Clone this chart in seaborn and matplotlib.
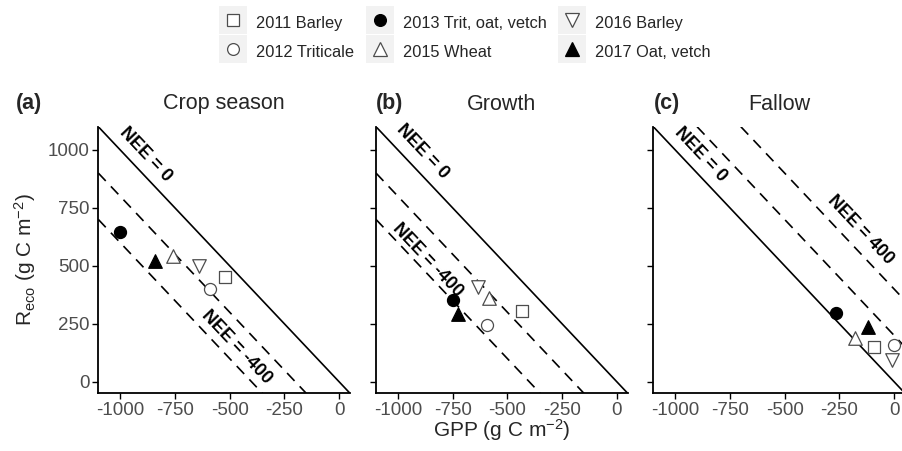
import matplotlib
matplotlib.use("Agg")
import matplotlib.pyplot as plt
from matplotlib.lines import Line2D
from matplotlib.legend_handler import HandlerTuple
import seaborn as sns

# ---------------- data ----------------
series = ['2011 Barley', '2012 Triticale', '2013 Trit, oat, vetch',
          '2015 Wheat', '2016 Barley', '2017 Oat, vetch']
markers = ['s', 'o', 'o', '^', 'v', '^']
filled = [False, False, True, False, False, True]

crop_gpp = [-520, -590, -1000, -757, -638, -840]
crop_reco = [453, 399, 647, 542, 498, 520]
growth_gpp = [-433, -593, -750, -582, -636, -727]
growth_reco = [306, 245, 353, 360, 407, 290]
fallow_gpp = [-91, 0, -263, -179, -8, -117]
fallow_reco = [151, 158, 298, 187, 94, 235]

panel_titles = ['Crop season', 'Growth', 'Fallow']
panel_tags = ['(a)', '(b)', '(c)']
nee_lines = [[0, -200, -400], [0, -200, -400], [0, 200, 400]]
nee_labels = [[('NEE = 0', -886, 978), ('NEE = -400', -468, 151)],
              [('NEE = 0', -886, 993), ('NEE = -400', -864, 525)],
              [('NEE = 0', -883, 978), ('NEE = 400', -152, 655)]]
xticks = [-1000, -750, -500, -250, 0]
yticks = [0, 250, 500, 750, 1000]

# ---------------- style ----------------
sns.set_style('ticks')
plt.rcParams['font.family'] = ['Liberation Sans', 'DejaVu Sans']
plt.rcParams['axes.unicode_minus'] = False
plt.rcParams['mathtext.fontset'] = 'custom'
plt.rcParams['mathtext.rm'] = 'Liberation Sans'
plt.rcParams['mathtext.it'] = 'Liberation Sans:italic'
plt.rcParams['mathtext.bf'] = 'Liberation Sans:bold'

W, H = 902, 451
fig = plt.figure(figsize=(W / 100, H / 100), dpi=100)

ax_left_px = [98.3, 376.0, 653.3]
ax_w_px = 251.7
ax_top_px, ax_bot_px = 126.7, 393.3
tag_x_px = [16, 376, 654]

data = [(crop_gpp, crop_reco), (growth_gpp, growth_reco), (fallow_gpp, fallow_reco)]
gray_edge = '#4D4D4D'

axes = []
for i in range(3):
    ax = fig.add_axes([ax_left_px[i] / W, 1 - ax_bot_px / H,
                       ax_w_px / W, (ax_bot_px - ax_top_px) / H])
    axes.append(ax)
    ax.set_xlim(-1100, 50)
    ax.set_ylim(-50, 1100)

    for nee in nee_lines[i]:
        ls = '-' if nee == 0 else (0, (6.5, 4.5))
        ax.axline((0, nee), slope=-1, color='black', lw=1.2, linestyle=ls, zorder=1)

    gx, gy = data[i]
    for j in range(len(series)):
        fc = 'black' if filled[j] else 'white'
        ec = 'black' if filled[j] else gray_edge
        size = 95 if markers[j] in ('^', 'v') else 75
        sns.scatterplot(x=[gx[j]], y=[gy[j]], marker=markers[j], s=size,
                        facecolor=fc, edgecolor=ec, linewidth=0.9,
                        ax=ax, zorder=3, legend=False)

    for txt, tx, ty in nee_labels[i]:
        ax.text(tx, ty, txt, rotation=-45, transform_rotates_text=True,
                rotation_mode='anchor', ha='center', va='center',
                fontsize=13, fontweight='bold', color='black', zorder=2)

    sns.despine(ax=ax)
    for sp in ('left', 'bottom'):
        ax.spines[sp].set_linewidth(1.3)
        ax.spines[sp].set_color('black')
    ax.set_xticks(xticks)
    ax.set_yticks(yticks)
    ax.tick_params(axis='both', length=4, width=1, color='black',
                   labelsize=13.5, labelcolor='#4D4D4D', pad=2)
    if i > 0:
        ax.set_yticklabels([])
    ax.set_xlabel('')
    ax.set_ylabel('')
    ax.text(0.5, 1 + (ax_top_px - 104) / (ax_bot_px - ax_top_px), panel_titles[i],
            transform=ax.transAxes, ha='center', va='center', fontsize=15.5)
    fig.text(tag_x_px[i] / W, 1 - 104 / H, panel_tags[i], ha='left', va='center',
             fontsize=15.5, fontweight='bold')

axes[0].set_ylabel(r'R$_{\mathrm{eco}}$ (g C m$^{-2}$)', fontsize=15)
axes[0].yaxis.set_label_coords(-(ax_left_px[0] - 25) / ax_w_px, 0.5)
axes[0].yaxis.label.set_va('center')
axes[1].set_xlabel(r'GPP (g C m$^{-2}$)', fontsize=15)
axes[1].xaxis.set_label_coords(0.5, -(430 - ax_bot_px) / (ax_bot_px - ax_top_px))
axes[1].xaxis.label.set_va('center')

# ---------------- legend ----------------
handles = []
for j in range(len(series)):
    bg = Line2D([], [], marker='s', markersize=20.5, color='#F2F2F2',
                markeredgewidth=0, linestyle='none')
    fc = 'black' if filled[j] else 'white'
    ec = 'black' if filled[j] else gray_edge
    ms = 10 if markers[j] in ('^', 'v') else 8.5
    fg = Line2D([], [], marker=markers[j], markersize=ms, markerfacecolor=fc,
                markeredgecolor=ec, markeredgewidth=0.9, linestyle='none')
    handles.append((bg, fg))

fig.legend(handles, series, handler_map={tuple: HandlerTuple(ndivide=1, pad=0)},
           ncol=3, loc='center', bbox_to_anchor=(0.516, 0.918), frameon=False,
           fontsize=11.8, handlelength=1.62, handleheight=1.68, handletextpad=0.6,
           columnspacing=0.75, labelspacing=0.45, borderpad=0, borderaxespad=0)

fig.savefig('out.png', dpi=100)
